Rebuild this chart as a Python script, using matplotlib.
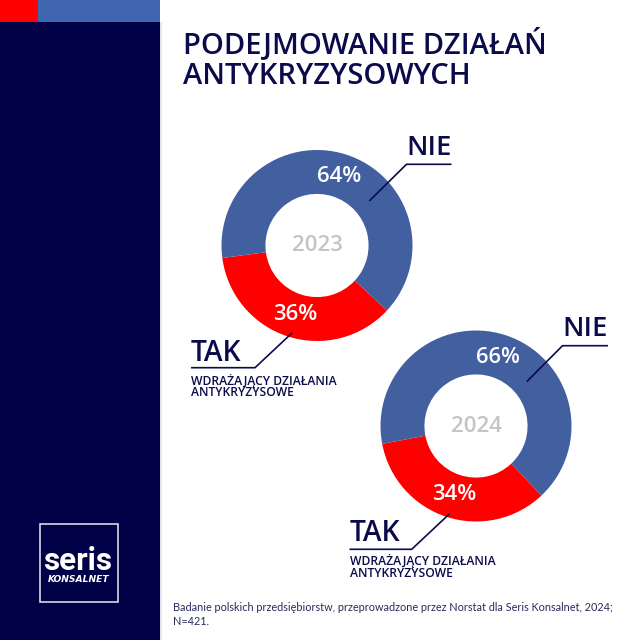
import matplotlib
matplotlib.use("Agg")
import matplotlib.pyplot as plt
from matplotlib.patches import Rectangle

# ---- data ----
years = ["2023", "2024"]
tak_values = [36, 34]
nie_values = [64, 66]
categories = ["TAK", "NIE"]
title_lines = ["PODEJMOWANIE DZIAŁAŃ", "ANTYKRYZYSOWYCH"]
tak_sub = ["WDRAŻAJĄCY DZIAŁANIA", "ANTYKRYZYSOWE"]
footer = ["Badanie polskich przedsiębiorstw, przeprowadzone przez Norstat dla Seris Konsalnet, 2024;",
          "N=421."]
logo_main = "seris"
logo_sub = "KONSALNET"

# ---- style ----
NAVY = "#010147"
TEXT = "#0b0b4b"
RED = "#ff0000"
BLUE = "#425f9f"
STRIPE = "#3f66ae"
GREY = "#c4c4c4"
HEAD = dict(family=["Open Sans", "DejaVu Sans"], fontweight=600)

W = H = 640
fig = plt.figure(figsize=(6.4, 6.4), dpi=100)
fig.patch.set_facecolor("white")
renderer = fig.canvas.get_renderer()


def fit(texts, target_w, wt=0.5):
    """Compromise font size between nominal (cap-height) size and width-fitted size."""
    w = texts[0].get_window_extent(renderer).width
    fs = texts[0].get_fontsize()
    fs_fit = fs * target_w / w
    new = fs ** (1 - wt) * fs_fit ** wt
    for t in texts:
        t.set_fontsize(new)


bg = fig.add_axes([0, 0, 1, 1], zorder=0)
bg.set_xlim(0, W); bg.set_ylim(H, 0); bg.axis("off")
bg.add_patch(Rectangle((0, 22), 160, 618, color=NAVY, lw=0))
bg.add_patch(Rectangle((0, 0), 38, 22, color=RED, lw=0))
bg.add_patch(Rectangle((38, 0), 122, 22, color=STRIPE, lw=0))
bg.add_patch(Rectangle((160, 22), 1.5, 618, color="#e6e6ea", lw=0))

# logo
bg.add_patch(Rectangle((39.5, 523.5), 78.5, 78, fill=False, ec="#d8d8e2", lw=1.2))
lt = bg.text(78, 570.5, logo_main, color="white", fontsize=24, fontweight="bold",
             family=["Roboto", "DejaVu Sans"], ha="center", va="baseline")
fit([lt], 69, wt=1.0)
bg.text(79, 582, logo_sub, color="white", fontsize=6.6, fontweight="bold",
        style="italic", ha="center", va="baseline")

# title
tts = [bg.text(183, 53.5 + 30 * i, line, color=TEXT, fontsize=20.2, ha="left",
               va="baseline", **HEAD) for i, line in enumerate(title_lines)]
fit(tts, 368, wt=0.75)

# footer
fts = [bg.text(173, 611 + 14 * i, line, color="#2a2a5e", fontsize=7.9, family="Lato",
               ha="left", va="baseline") for i, line in enumerate(footer)]
fit(fts, 443, wt=1.0)

# donuts
centers = [(317, 245.5), (476, 426)]
radius = 95.5
starts = [187.5, 190.8]
for (cx, cy), year, t, n, st in zip(centers, years, tak_values, nie_values, starts):
    ax = fig.add_axes([(cx - radius) / W, 1 - (cy + radius) / H, 2 * radius / W, 2 * radius / H],
                      zorder=1)
    wedges, texts, autotexts = ax.pie(
        [t, n], colors=[RED, BLUE], startangle=st, counterclock=True,
        wedgeprops=dict(width=0.46, linewidth=0), autopct="%.0f%%", pctdistance=0.755,
        textprops=dict(color="white", fontsize=15, **HEAD))
    ax.set_xlim(-1, 1); ax.set_ylim(-1, 1); ax.set_aspect("equal"); ax.axis("off")
    for a in autotexts:
        fit([a], 47, wt=0.5)
    yt = ax.text(0, 0, year, color=GREY, fontsize=15.5, ha="center", va="center",
                 family=["Open Sans", "DejaVu Sans"], fontweight=600)
    fit([yt], 52, wt=0.5)

# callouts
top = fig.add_axes([0, 0, 1, 1], zorder=3)
top.set_xlim(0, W); top.set_ylim(H, 0); top.axis("off"); top.patch.set_alpha(0)

# NIE labels
nie_pos = [(406.5, 155, 451.5, 164.3, 369.3, 201), (562.5, 335.7, 608, 345.7, 526.7, 381.7)]
for x0, base, x1, ul, ax_, ay in nie_pos:
    nt = top.text((x0 + x1) / 2, base, categories[1], color=TEXT, fontsize=20.2,
                  ha="center", va="baseline", **HEAD)
    fit([nt], 44, wt=0.5)
    top.plot([x1, x0, ax_], [ul, ul, ay], color=TEXT, lw=1.2, solid_capstyle="butt")

# TAK labels (subtitle anchored at the baseline of its last line)
tak_pos = [(191, 360.7, 255, 367.7, 292.3, 332.7, 396),
           (349.5, 540.7, 411.7, 549.3, 449.3, 514, 577)]
for x0, base, x1, ul, ax_, ay, s2 in tak_pos:
    tk = top.text(x0, base, categories[0], color=TEXT, fontsize=17.5,
                  ha="left", va="baseline", **HEAD)
    fit([tk], 59, wt=0.5)
    top.plot([x0, x1, ax_], [ul, ul, ay], color=TEXT, lw=1.2, solid_capstyle="butt")
    st_ = top.text(x0, s2, "\n".join(tak_sub), color=TEXT, fontsize=6.8, ha="left",
                   va="baseline", linespacing=0.85, **HEAD)
    fit([st_], 152, wt=0.85)

fig.savefig("out.png", dpi=100, facecolor="white")
